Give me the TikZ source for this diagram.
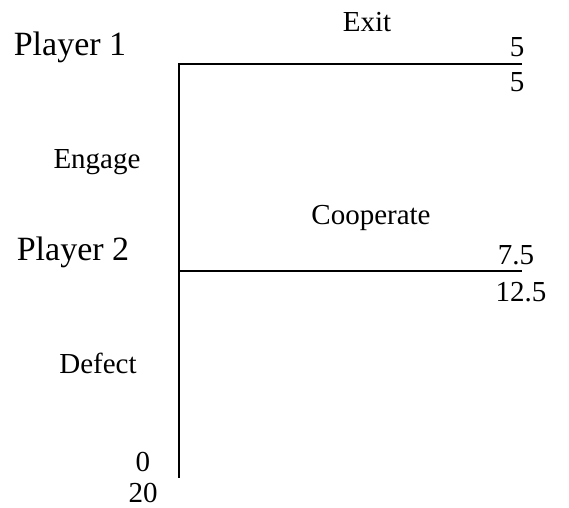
\documentclass[tikz,border=0pt]{standalone}
\usepackage{fontspec}
\setmainfont{Liberation Serif}
\begin{document}
\begin{tikzpicture}[x=0.5pt, y=-0.5pt, line width=0.75pt,
    lbl/.style={font=\fontsize{14.5}{17}\selectfont, inner sep=0pt},
    player/.style={font=\fontsize{17}{20}\selectfont, inner sep=0pt}]
    \useasboundingbox (0,0) rectangle (569,508);

    % Decision points
    \coordinate (p1) at (179,64);
    \coordinate (p2) at (179,271);
    \coordinate (exitend) at (522,64);
    \coordinate (coopend) at (522,271);
    \coordinate (defend) at (179,478);

    % Branches
    \draw (exitend) -- (p1) -- (p2) -- (defend);
    \draw (p2) -- (coopend);

    % Players
    \node[player] (pl1) at (70,47) {Player 1};
    \node[player] (pl2) at (73,252) {Player 2};

    % Moves
    \node[lbl] (exit) at (367,22) {Exit};
    \node[lbl] (engage) at (97,162) {Engage};
    \node[lbl] (coop) at (371,218) {Cooperate};
    \node[lbl] (defect) at (98,363) {Defect};

    % Payoffs
    \node[lbl] (exitA) at (517,47) {5};
    \node[lbl] (exitB) at (517,82) {5};
    \node[lbl] (coopA) at (516,255) {7.5};
    \node[lbl] (coopB) at (521,292) {12.5};
    \node[lbl] (defA) at (143,462) {0};
    \node[lbl] (defB) at (143,493) {20};
\end{tikzpicture}
\end{document}
